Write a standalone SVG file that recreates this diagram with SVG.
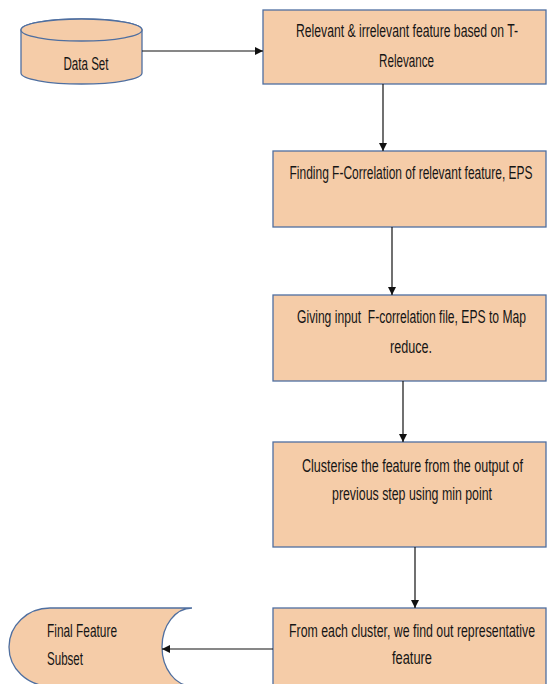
<svg xmlns="http://www.w3.org/2000/svg" width="547" height="684" viewBox="0 0 547 684">
<style>
.shape{fill:#F5CCA8;stroke:#4F6FA0;stroke-width:1.3}
.t{font-family:"Liberation Sans",Arial,sans-serif;font-size:12.5px;fill:#151515;text-anchor:middle}
.tl{font-family:"Liberation Sans",Arial,sans-serif;font-size:12.5px;fill:#151515}
.c{fill:none;stroke:#111;stroke-width:1.2}
</style>
<defs>
<marker id="ah" viewBox="0 0 10 10" refX="10" refY="5" markerWidth="8" markerHeight="8" markerUnits="userSpaceOnUse" orient="auto">
<path d="M0,0 L10,5 L0,10 z" fill="#111"/>
</marker>
</defs>
<rect width="547" height="684" fill="#fff"/>
<g id="dataset">
<path class="shape" d="M21,30 L21,73 A60.5,11 0 0 0 142,73 L142,30 A60.5,11 0 0 0 21,30 Z"/>
<ellipse class="shape" cx="81.5" cy="30" rx="60.5" ry="11"/>
<text class="t" transform="translate(86,70) scale(1,1.45)" textLength="45" lengthAdjust="spacingAndGlyphs">Data Set</text>
</g>
<g id="box1">
<rect class="shape" x="263" y="10" width="283" height="74"/>
<text class="t" transform="translate(407,37) scale(1,1.45)" textLength="222" lengthAdjust="spacingAndGlyphs">Relevant &amp; irrelevant feature based on T-</text>
<text class="t" transform="translate(406.5,67) scale(1,1.45)" textLength="55" lengthAdjust="spacingAndGlyphs">Relevance</text>
</g>
<g id="box2">
<rect class="shape" x="273" y="151" width="273" height="76"/>
<text class="t" transform="translate(411,179) scale(1,1.45)" textLength="243" lengthAdjust="spacingAndGlyphs">Finding F-Correlation of relevant feature, EPS</text>
</g>
<g id="box3">
<rect class="shape" x="273" y="295" width="273" height="86"/>
<text class="t" transform="translate(411.5,323) scale(1,1.45)" textLength="229" lengthAdjust="spacingAndGlyphs" xml:space="preserve">Giving input  F-correlation file, EPS to Map</text>
<text class="t" transform="translate(411,353) scale(1,1.45)" textLength="42" lengthAdjust="spacingAndGlyphs">reduce.</text>
</g>
<g id="box4">
<rect class="shape" x="273" y="442" width="273" height="105"/>
<text class="t" transform="translate(412.5,472) scale(1,1.45)" textLength="221" lengthAdjust="spacingAndGlyphs">Clusterise the feature from the output of</text>
<text class="t" transform="translate(412,500) scale(1,1.45)" textLength="160" lengthAdjust="spacingAndGlyphs">previous step using min point</text>
</g>
<g id="box5">
<rect class="shape" x="273" y="608" width="273" height="90"/>
<text class="t" transform="translate(412,637) scale(1,1.45)" textLength="246" lengthAdjust="spacingAndGlyphs">From each cluster, we find out representative</text>
<text class="t" transform="translate(412,664) scale(1,1.45)" textLength="40" lengthAdjust="spacingAndGlyphs">feature</text>
</g>
<g id="final">
<path class="shape" d="M50,608 L192,608 A30,39 0 0 0 192,686 L50,686 A41,39 0 0 1 50,608 Z"/>
<text class="tl" transform="translate(47,637) scale(1,1.45)" textLength="70" lengthAdjust="spacingAndGlyphs">Final Feature</text>
<text class="tl" transform="translate(47,665) scale(1,1.45)" textLength="36" lengthAdjust="spacingAndGlyphs">Subset</text>
</g>
<g id="connectors">
<line class="c" x1="142" y1="51" x2="263" y2="51" marker-end="url(#ah)"/>
<line class="c" x1="383" y1="84" x2="383" y2="151" marker-end="url(#ah)"/>
<line class="c" x1="392" y1="227" x2="392" y2="295" marker-end="url(#ah)"/>
<line class="c" x1="403" y1="381" x2="403" y2="442" marker-end="url(#ah)"/>
<line class="c" x1="415" y1="547" x2="415" y2="608" marker-end="url(#ah)"/>
<line class="c" x1="273" y1="649" x2="162" y2="649" marker-end="url(#ah)"/>
</g>
</svg>
